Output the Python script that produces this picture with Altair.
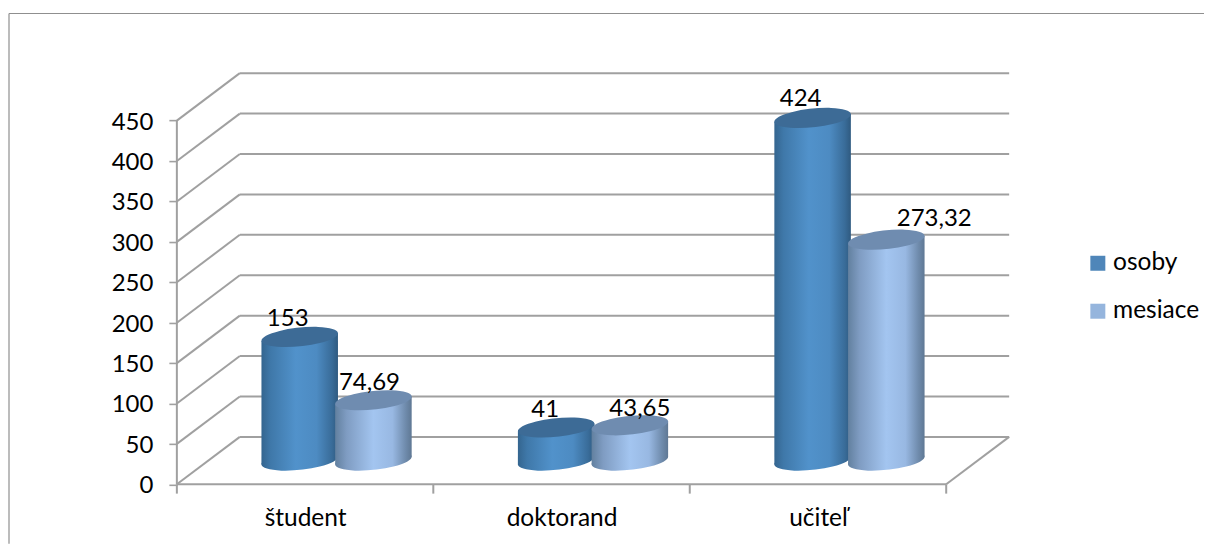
import altair as alt
import pandas as pd

categories = ["študent", "doktorand", "učiteľ"]
series_names = ["osoby", "mesiace"]
osoby = [153, 41, 424]
mesiace = [74.69, 43.65, 273.32]
y_ticks = [0, 50, 100, 150, 200, 250, 300, 350, 400, 450]

FONT = "Lato"
GRID = "#a0a0a0"
DX, DY = 0.2455, 58.7          # depth of the 3D box, in x and y scale units
HALF_GAP, HALF_W = 0.1437, 0.15
TILT = 4.9
ELLIPSE = "M-0.9945,0.1045A1,0.24,-6,1,1,0.9945,-0.1045A1,0.24,-6,1,1,-0.9945,0.1045Z"
ELL_SIZE = 5929

def grad(stops):
    return alt.LinearGradient(gradient="linear", x1=0, x2=1, y1=0, y2=0,
                              stops=[alt.GradientStop(color=c, offset=o) for o, c in stops])

STYLE = {
    "osoby": dict(body=grad([(0, "#34658f"), (0.12, "#3f78a9"), (0.45, "#5192cb"), (0.72, "#4d8bc2"), (0.92, "#396c99"), (1, "#2f5a80")]),
                  top="#3d6b96", sign=-1),
    "mesiace": dict(body=grad([(0, "#62809f"), (0.15, "#7f9cc2"), (0.5, "#a3c5f0"), (0.75, "#98b8e2"), (0.92, "#6f8bac"), (1, "#5f7894")]),
                    top="#6f8cb0", sign=1),
}

xs = alt.Scale(domain=[0, 3 + DX], nice=False, zero=False)
ys = alt.Scale(domain=[0, 450 + DY], nice=False, zero=False)

label_map = "{" + ",".join(f"'{i}':'{c}'" for i, c in enumerate(categories)) + "}"
XAXIS = alt.Axis(values=[0.5, 1.5, 2.5], labelExpr=f"{label_map}[floor(datum.value)]", title=None,
                 ticks=False, domain=False, grid=False, labelFont=FONT, labelFontSize=24.5,
                 labelColor="#000000", labelPadding=22, labelAngle=0)
YAXIS = alt.Axis(values=y_ticks, title=None, domain=False, grid=False, tickSize=8, tickColor=GRID,
                 tickWidth=1.6, labelFont=FONT, labelFontSize=24, labelColor="#000000", labelPadding=16,
                 labelOffset=1.5)

def X(f, **k):
    return alt.X(f, type="quantitative", scale=xs, axis=XAXIS, **k)

def Y(f, **k):
    return alt.Y(f, type="quantitative", scale=ys, axis=YAXIS, **k)

# box frame
seg = []
for t in y_ticks:
    seg.append(dict(x=0, x2=DX, y=t, y2=t + DY))
    seg.append(dict(x=DX, x2=3 + DX, y=t + DY, y2=t + DY))
seg.append(dict(x=0, x2=0, y=0, y2=450))
seg.append(dict(x=0, x2=3, y=0, y2=0))
seg.append(dict(x=3, x2=3 + DX, y=0, y2=DY))
for i in range(4):
    seg.append(dict(x=i, x2=i, y=0, y2=-11.5))
frame = alt.Chart(pd.DataFrame(seg)).mark_rule(color=GRID, strokeWidth=2).encode(
    x=X("x"), x2="x2", y=Y("y"), y2="y2")

# cylinders
layers = []
value_map = {"osoby": osoby, "mesiace": mesiace}
for name in series_names:
    st = STYLE[name]
    body_rows, cap_rows = [], []
    for i, (cat, v) in enumerate(zip(categories, value_map[name])):
        cx = i + 0.5 + DX / 2 + st["sign"] * HALF_GAP
        base = DY / 2
        top = base + v
        cap_rows.append(dict(cat=cat, cx=cx, base=base, top=top))
        body_rows.append(dict(cat=cat, x=cx - HALF_W * 0.9945, y=top - TILT, y2=base - TILT))
        body_rows.append(dict(cat=cat, x=cx + HALF_W * 0.9945, y=top + TILT, y2=base + TILT))
    caps = pd.DataFrame(cap_rows)
    bodies = pd.DataFrame(body_rows)
    layers.append(alt.Chart(caps).mark_point(shape=ELLIPSE, size=ELL_SIZE, filled=True, opacity=1, color=st["body"], strokeWidth=0)
                  .encode(x=X("cx"), y=Y("base")))
    layers.append(alt.Chart(bodies).mark_area(color=st["body"], orient="vertical", opacity=1)
                  .encode(x=X("x"), y=Y("y", stack=False), y2="y2", detail="cat:N"))
    layers.append(alt.Chart(caps).mark_point(shape=ELLIPSE, size=ELL_SIZE, filled=True, opacity=1, color=st["top"], strokeWidth=0)
                  .encode(x=X("cx"), y=Y("top")))

# value labels
nudges = {("osoby", 0): (-12, -18), ("mesiace", 0): (-4, -17), ("osoby", 1): (-11, -17), ("mesiace", 1): (10, -16),
          ("osoby", 2): (-12, -19), ("mesiace", 2): (48, -21)}
texts = []
for name in series_names:
    st = STYLE[name]
    for i, v in enumerate(value_map[name]):
        cx = i + 0.5 + DX / 2 + st["sign"] * HALF_GAP
        lab = str(v).replace(".", ",")
        ndx, ndy = nudges[(name, i)]
        texts.append(alt.Chart(pd.DataFrame([dict(x=cx, y=DY / 2 + v, t=lab)]))
                     .mark_text(font=FONT, fontSize=24, color="#000000", dx=ndx, dy=ndy)
                     .encode(x=X("x"), y=Y("y"), text="t:N"))

# legend
legend_df = pd.DataFrame({"s": series_names, "x": [0, 0], "y": [0, 0]})
legend = alt.Chart(legend_df).mark_point(filled=True, opacity=0, shape="square").encode(
    x=X("x"), y=Y("y"),
    color=alt.Color("s:N", sort=series_names,
                    scale=alt.Scale(domain=series_names, range=["#4f86b9", "#95b5dd"]),
                    legend=alt.Legend(orient="none", legendX=909.5, legendY=178, title=None, symbolType="square",
                                      symbolSize=225, symbolOpacity=1, symbolStrokeWidth=0, labelFont=FONT,
                                      labelFontSize=24.5, labelColor="#000000", rowPadding=23, labelOffset=3)))

# outer border
def border(x, x2, y, y2):
    return alt.Chart(pd.DataFrame({"a": [0]})).mark_rule(color="#8f8f8f", strokeWidth=1.2).encode(
        x=alt.value(x), x2=alt.value(x2), y=alt.value(y), y2=alt.value(y2))

borders = [border(-168, 1028, -59.7, -59.7), border(-168, -168, -59.7, 471)]

chart = alt.layer(*borders, frame, *layers, *texts, legend).properties(
    width=833, height=411.5,
    padding={"left": 0, "top": 4, "right": 0, "bottom": 0},
    background="white",
).configure_view(stroke=None)

chart.save("out.html", embed_options={"renderer": "svg", "actions": False})
